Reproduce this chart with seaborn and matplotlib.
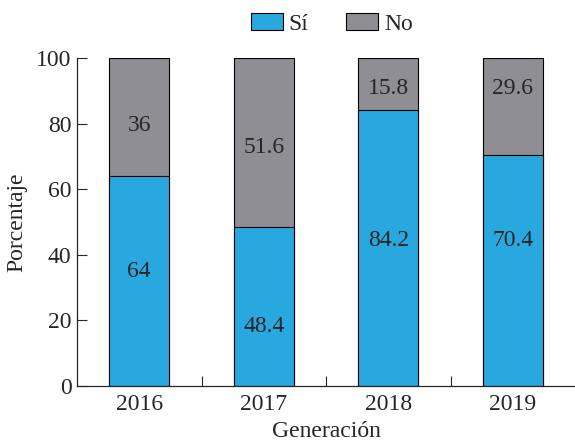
import numpy as np
import pandas as pd
import matplotlib
matplotlib.use("Agg")
import matplotlib.pyplot as plt
from matplotlib.patches import Patch
from matplotlib.ticker import FixedLocator
import seaborn as sns

# Data
years = ["2016", "2017", "2018", "2019"]
si_values = [64, 48.4, 84.2, 70.4]
no_values = [36, 51.6, 15.8, 29.6]
# where the value labels sit (percent units)
si_label_y = [34.8, 18.0, 44.5, 44.5]
no_label_y = [79.6, 72.6, 90.9, 90.9]

BLUE = "#29a8e0"
GRAY = "#8e8e93"
FS = 17

sns.set_style("ticks")
plt.rcParams["font.family"] = ["Liberation Serif", "DejaVu Serif"]

df = pd.DataFrame({"year": years, "si": si_values, "no": no_values})
df["total"] = df["si"] + df["no"]

fig = plt.figure(figsize=(5.75, 4.41), dpi=100)
ax = fig.add_axes([0.134, 0.125, 0.866, 0.743])

sns.barplot(data=df, x="year", y="total", color=GRAY, width=0.48,
            edgecolor="black", linewidth=0.8, saturation=1, ax=ax)
sns.barplot(data=df, x="year", y="si", color=BLUE, width=0.48,
            edgecolor="black", linewidth=0.8, saturation=1, ax=ax)

for i in range(len(years)):
    ax.text(i, si_label_y[i], f"{si_values[i]:g}", ha="center", va="center", fontsize=FS)
    ax.text(i, no_label_y[i], f"{no_values[i]:g}", ha="center", va="center", fontsize=FS)

ax.set_xlim(-0.5, 3.5)
ax.set_ylim(0, 100)
ax.set_yticks([0, 20, 40, 60, 80, 100])
ax.xaxis.set_minor_locator(FixedLocator([0.5, 1.5, 2.5]))
ax.tick_params(axis="x", which="major", length=0, labelsize=FS, pad=6)
ax.tick_params(axis="x", which="minor", direction="in", length=7, width=0.8)
ax.tick_params(axis="y", direction="in", length=7, width=0.8, labelsize=FS, pad=4)

ax.set_xlabel("Generación", fontsize=FS, labelpad=4)
ax.set_ylabel("Porcentaje", fontsize=FS, labelpad=6)

sns.despine(ax=ax)
for s in ["left", "bottom"]:
    ax.spines[s].set_linewidth(0.9)

handles = [Patch(facecolor=BLUE, edgecolor="black", linewidth=0.8, label="Sí"),
           Patch(facecolor=GRAY, edgecolor="black", linewidth=0.8, label="No")]
fig.legend(handles=handles, loc="upper center", bbox_to_anchor=(0.577, 1.018), ncol=2,
           frameon=False, fontsize=FS, handlelength=1.35, handleheight=0.68,
           handletextpad=0.25, columnspacing=1.6)

fig.savefig("out.png", dpi=100)
